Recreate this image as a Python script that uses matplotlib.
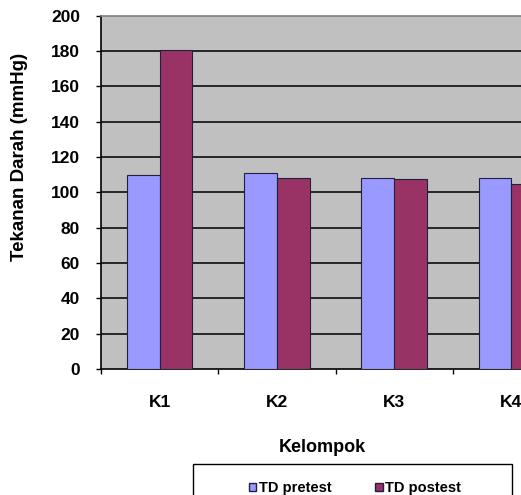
import numpy as np
import matplotlib
matplotlib.use('Agg')
import matplotlib.pyplot as plt
from matplotlib.patches import Rectangle, Patch

plt.rcParams['font.family'] = ['Liberation Sans', 'DejaVu Sans']
plt.rcParams['font.weight'] = 'bold'

# data
groups = ['K1', 'K2', 'K3', 'K4']
pretest = [110, 111.2, 108.4, 108.4]
postest = [180.5, 108.4, 107.5, 105]
series_names = ['TD pretest', 'TD postest']
y_ticks = [0, 20, 40, 60, 80, 100, 120, 140, 160, 180, 200]

W, H = 521, 495
fig = plt.figure(figsize=(W / 100, H / 100), dpi=100)

# plot area runs past the right edge of the image (chart is cropped)
left, right, top, bottom = 101, 570, 15.7, 369
ax = fig.add_axes([left / W, 1 - bottom / H, (right - left) / W, (bottom - top) / H])
ax.set_facecolor('#C0C0C0')

x = np.arange(len(groups))
bw = 0.28
ax.bar(x - bw / 2, pretest, bw, color='#9999FF', edgecolor='#202040', linewidth=0.8, zorder=3)
ax.bar(x + bw / 2, postest, bw, color='#993366', edgecolor='#202040', linewidth=0.8, zorder=3)

ax.set_xlim(-0.5, len(groups) - 0.5)
ax.set_ylim(0, 200)
ax.set_yticks(y_ticks)
ax.set_yticklabels([str(t) for t in y_ticks], fontsize=12.5, fontweight='bold')
for t in y_ticks[1:-1]:
    ax.axhline(t, color='#1a1a1a', linewidth=1.3, zorder=1)

ax.set_xticks(x)
ax.set_xticklabels(groups, fontsize=12.5, fontweight='bold')
ax.set_xticks(np.arange(len(groups)) - 0.5, minor=True)
ax.tick_params(axis='x', which='major', length=0, pad=19)
ax.tick_params(axis='x', which='minor', length=3.6, direction='out', width=1)
ax.tick_params(axis='y', length=3.6, direction='out', width=1, pad=11.5)

ax.spines['left'].set_color('black')
ax.spines['bottom'].set_color('black')
ax.spines['top'].set_color('#808080')
ax.spines['right'].set_color('#808080')
for s in ax.spines.values():
    s.set_linewidth(1.2)

fig.text(20 / W, 1 - 157 / H, 'Tekanan Darah (mmHg)', rotation=90,
         ha='center', va='center', fontsize=13.5, fontweight='bold')
fig.text(322 / W, 1 - 448 / H, 'Kelompok', ha='center', va='center',
         fontsize=13, fontweight='bold')

# legend box (cut off at the bottom of the image)
fig.patches.append(Rectangle((193 / W, 1 - 500 / H), (512 - 193) / W, 36 / H,
                             transform=fig.transFigure, facecolor='white',
                             edgecolor='black', linewidth=1))
handles = [Patch(facecolor='#9999FF', edgecolor='#202040'),
           Patch(facecolor='#993366', edgecolor='#202040')]
fig.legend(handles, series_names, loc='center', bbox_to_anchor=(355 / W, 1 - 488 / H),
           ncol=2, frameon=False, handlelength=0.5, handleheight=0.5,
           handletextpad=0.2, columnspacing=3.0, prop={'weight': 'bold', 'size': 10.5})

fig.savefig('out.png', dpi=100)
